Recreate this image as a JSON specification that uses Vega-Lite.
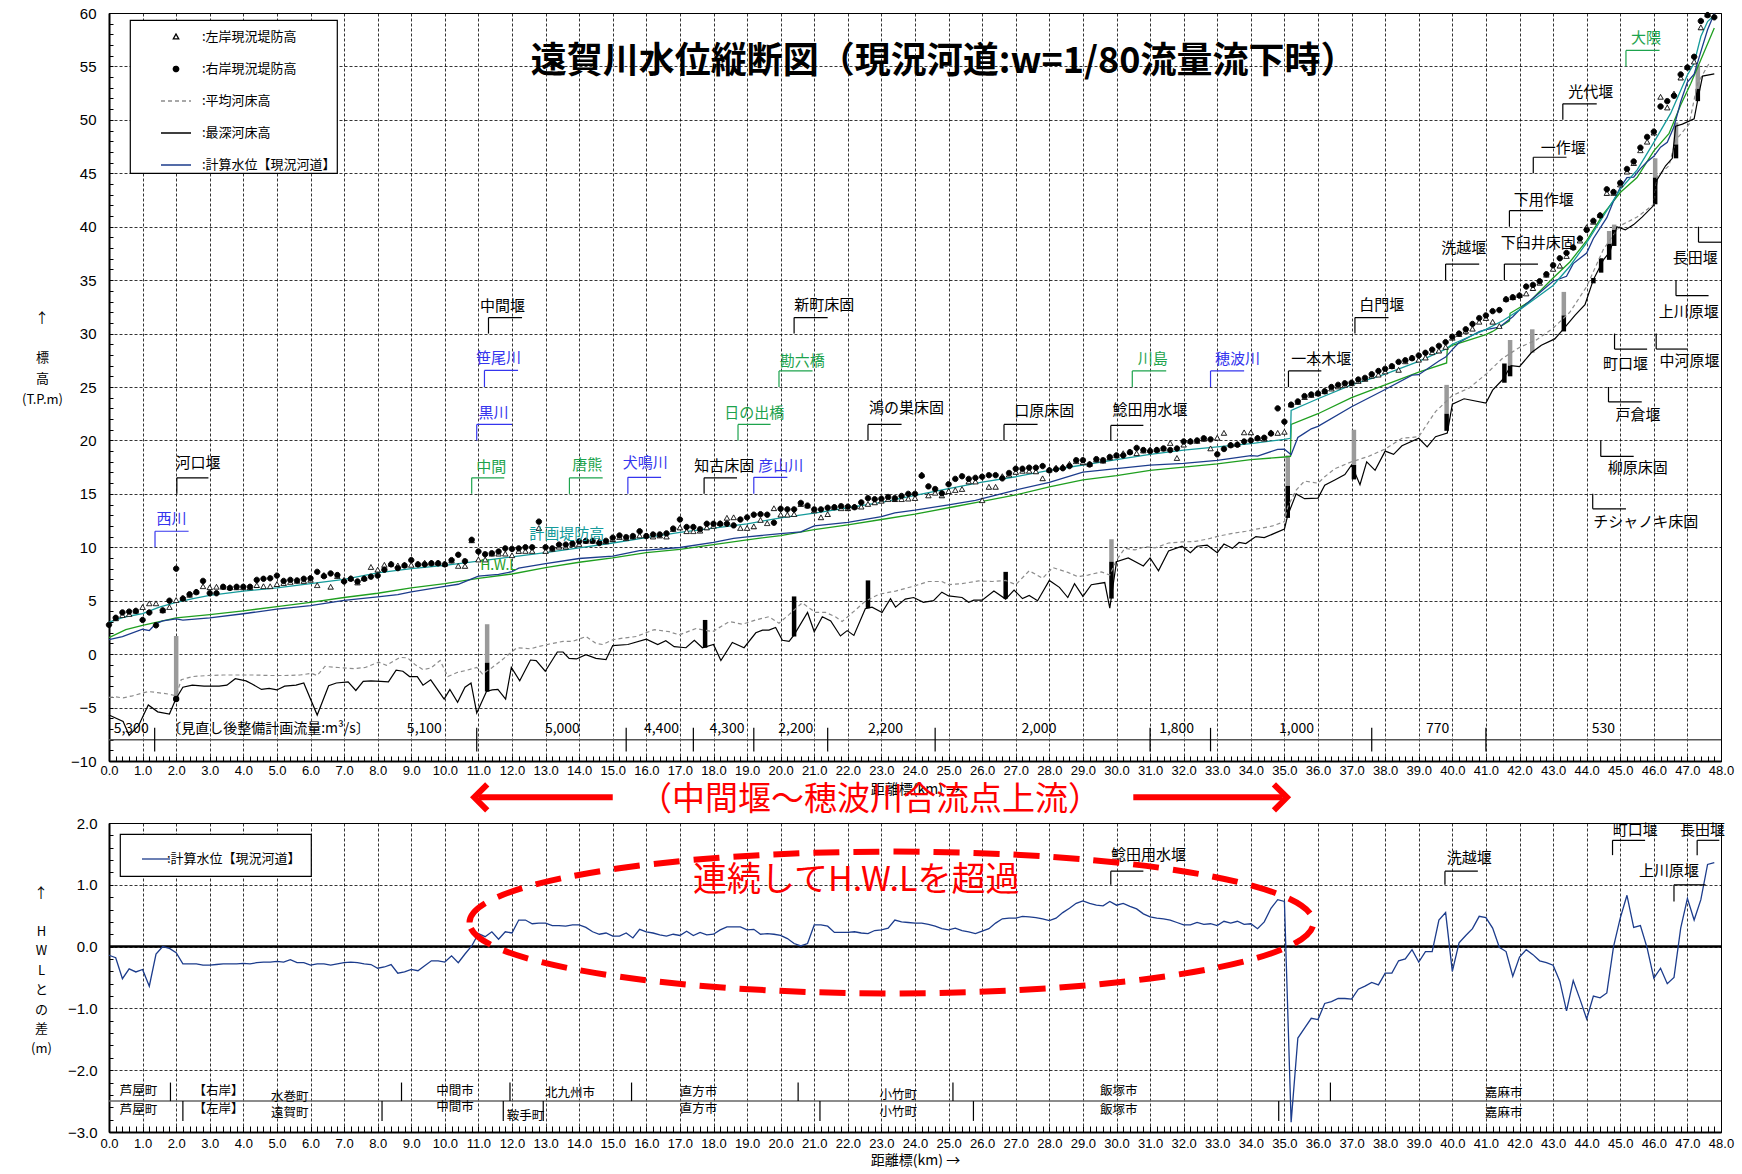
{
  "$schema": "https://vega.github.io/schema/vega-lite/v6.json",
  "background": "white",
  "padding": {"left": 21, "top": 5, "right": 5, "bottom": 5},
  "bounds": "flush",
  "spacing": 62,
  "config": {
    "font": "Noto Sans CJK JP",
    "view": {"stroke": "#000000", "strokeWidth": 1},
    "axis": {"labelColor": "#000000", "titleColor": "#000000", "domainColor": "#000000", "tickColor": "#000000", "gridColor": "#000000"},
    "legend": {"strokeWidth": 1.2},
    "text": {"font": "Noto Sans CJK JP", "color": "#000000"}
  },
  "resolve": {"scale": {"color": "independent", "shape": "independent", "fill": "independent", "stroke": "independent", "strokeDash": "independent"}},
  "datasets": {
    "bankL": [
      {"k":0.2,"z":3.3},{"k":0.4,"z":3.6},{"k":0.6,"z":3.7},{"k":0.8,"z":4.0},{"k":1.0,"z":4.35},{"k":1.2,"z":4.7},{"k":1.4,"z":4.7},{"k":1.6,"z":4.05},{"k":1.8,"z":4.35},{"k":2.0,"z":5.0},
      {"k":2.2,"z":5.2},{"k":2.4,"z":5.5},{"k":2.6,"z":5.8},{"k":2.8,"z":6.3},{"k":3.0,"z":6.2},{"k":3.2,"z":6.25},{"k":3.4,"z":6.25},{"k":3.6,"z":6.2},{"k":3.8,"z":6.2},{"k":4.0,"z":6.2},
      {"k":4.2,"z":6.2},{"k":4.4,"z":6.4},{"k":4.6,"z":6.3},{"k":4.8,"z":6.3},{"k":5.0,"z":6.5},{"k":5.2,"z":6.6},{"k":5.4,"z":6.7},{"k":5.6,"z":6.8},{"k":5.8,"z":6.8},{"k":6.0,"z":6.9},
      {"k":6.2,"z":6.4},{"k":6.4,"z":7.35},{"k":6.6,"z":6.25},{"k":6.8,"z":7.25},{"k":7.0,"z":6.9},{"k":7.2,"z":7.05},{"k":7.4,"z":6.65},{"k":7.6,"z":7.05},{"k":7.8,"z":8.1},{"k":8.0,"z":7.85},
      {"k":8.2,"z":8.3},{"k":8.4,"z":8.4},{"k":8.6,"z":8.25},{"k":8.8,"z":8.3},{"k":9.0,"z":8.3},{"k":9.2,"z":8.4},{"k":9.4,"z":8.5},{"k":9.6,"z":8.5},{"k":9.8,"z":8.5},{"k":10.0,"z":8.4},
      {"k":10.2,"z":8.7},{"k":10.4,"z":8.2},{"k":10.6,"z":8.2},{"k":10.8,"z":10.6},{"k":11.0,"z":8.8},{"k":11.2,"z":8.8},{"k":11.4,"z":9.35},{"k":11.6,"z":9.35},{"k":11.8,"z":9.35},{"k":12.0,"z":9.2},
      {"k":12.2,"z":9.6},{"k":12.4,"z":9.6},{"k":12.6,"z":9.6},{"k":12.8,"z":11.75},{"k":13.0,"z":9.6},{"k":13.2,"z":9.8},{"k":13.4,"z":10.0},{"k":13.6,"z":10.0},{"k":13.8,"z":10.25},{"k":14.0,"z":10.25},
      {"k":14.2,"z":10.55},{"k":14.4,"z":10.55},{"k":14.6,"z":10.55},{"k":14.8,"z":10.5},{"k":15.0,"z":10.7},{"k":15.2,"z":10.9},{"k":15.4,"z":10.8},{"k":15.6,"z":10.95},{"k":15.8,"z":11.05},{"k":16.0,"z":11.05},
      {"k":16.2,"z":10.95},{"k":16.4,"z":11.05},{"k":16.6,"z":10.95},{"k":16.8,"z":11.65},{"k":17.0,"z":11.8},{"k":17.2,"z":11.45},{"k":17.4,"z":11.45},{"k":17.6,"z":11.5},{"k":17.8,"z":11.8},{"k":18.0,"z":11.95},
      {"k":18.2,"z":12.2},{"k":18.4,"z":12.7},{"k":18.6,"z":12.75},{"k":18.8,"z":11.75},{"k":19.0,"z":11.75},{"k":19.2,"z":11.9},{"k":19.4,"z":12.5},{"k":19.6,"z":12.2},{"k":19.8,"z":13.6},{"k":20.0,"z":13.0},
      {"k":20.2,"z":13.0},{"k":20.4,"z":13.05},{"k":20.6,"z":14.0},{"k":20.8,"z":13.85},{"k":21.0,"z":13.4},{"k":21.2,"z":12.75},{"k":21.4,"z":13.05},{"k":21.6,"z":13.7},{"k":21.8,"z":13.6},{"k":22.0,"z":13.6},
      {"k":22.2,"z":13.75},{"k":22.4,"z":13.75},{"k":22.6,"z":14.0},{"k":22.8,"z":14.15},{"k":23.0,"z":14.3},{"k":23.2,"z":14.45},{"k":23.4,"z":14.45},{"k":23.6,"z":14.45},{"k":23.8,"z":14.5},{"k":24.0,"z":14.55},
      {"k":24.2,"z":16.75},{"k":24.4,"z":14.8},{"k":24.6,"z":15.05},{"k":24.8,"z":14.8},{"k":25.0,"z":15.2},{"k":25.2,"z":15.3},{"k":25.4,"z":15.4},{"k":25.6,"z":16.1},{"k":25.8,"z":16.1},{"k":26.0,"z":14.35},
      {"k":26.2,"z":15.6},{"k":26.4,"z":15.6},{"k":26.6,"z":16.6},{"k":26.8,"z":16.75},{"k":27.0,"z":17.0},{"k":27.2,"z":17.1},{"k":27.4,"z":17.1},{"k":27.6,"z":17.05},{"k":27.8,"z":16.4},{"k":28.0,"z":17.2},
      {"k":28.2,"z":17.4},{"k":28.4,"z":17.5},{"k":28.6,"z":17.75},{"k":28.8,"z":18.0},{"k":29.0,"z":17.9},{"k":29.2,"z":17.75},{"k":29.4,"z":18.15},{"k":29.6,"z":18.05},{"k":29.8,"z":18.35},{"k":30.0,"z":18.55},
      {"k":30.2,"z":18.75},{"k":30.4,"z":18.9},{"k":30.6,"z":18.75},{"k":30.8,"z":19.0},{"k":31.0,"z":19.1},{"k":31.2,"z":19.1},{"k":31.4,"z":19.2},{"k":31.6,"z":19.7},{"k":31.8,"z":18.3},{"k":32.0,"z":19.55},
      {"k":32.2,"z":19.9},{"k":32.4,"z":19.9},{"k":32.6,"z":20.1},{"k":32.8,"z":19.2},{"k":33.0,"z":20.2},{"k":33.2,"z":20.65},{"k":33.4,"z":19.55},{"k":33.6,"z":19.6},{"k":33.8,"z":20.7},{"k":34.0,"z":20.7},
      {"k":34.2,"z":20.2},{"k":34.4,"z":20.1},{"k":34.6,"z":20.7},{"k":34.8,"z":20.65},{"k":35.0,"z":20.75},{"k":35.2,"z":23.3},{"k":35.4,"z":23.55},{"k":35.6,"z":24.0},{"k":35.8,"z":24.2},{"k":36.0,"z":24.35},
      {"k":36.2,"z":24.55},{"k":36.4,"z":24.8},{"k":36.6,"z":25.0},{"k":36.8,"z":25.15},{"k":37.0,"z":25.3},{"k":37.2,"z":25.5},{"k":37.4,"z":25.7},{"k":37.6,"z":26.0},{"k":37.8,"z":26.1},{"k":38.0,"z":26.4},
      {"k":38.2,"z":26.9},{"k":38.4,"z":26.55},{"k":38.6,"z":27.35},{"k":38.8,"z":27.7},{"k":39.0,"z":27.5},{"k":39.2,"z":27.7},{"k":39.4,"z":28.2},{"k":39.6,"z":28.35},{"k":39.8,"z":28.7},{"k":40.0,"z":29.55},
      {"k":40.2,"z":29.9},{"k":40.4,"z":30.2},{"k":40.6,"z":30.4},{"k":40.8,"z":31.05},{"k":41.0,"z":31.4},{"k":41.2,"z":31.05},{"k":41.4,"z":30.65},{"k":41.6,"z":33.2},{"k":41.8,"z":33.35},{"k":42.0,"z":33.55},
      {"k":42.2,"z":33.7},{"k":42.4,"z":34.2},{"k":42.6,"z":34.7},{"k":42.8,"z":35.45},{"k":43.0,"z":36.0},{"k":43.2,"z":36.3},{"k":43.4,"z":37.2},{"k":43.6,"z":38.05},{"k":43.8,"z":38.65},{"k":44.0,"z":39.9},
      {"k":44.2,"z":40.4},{"k":44.4,"z":41.05},{"k":44.6,"z":43.1},{"k":44.8,"z":43.1},{"k":45.0,"z":43.9},{"k":45.2,"z":45.1},{"k":45.4,"z":45.9},{"k":45.6,"z":47.1},{"k":45.8,"z":47.9},{"k":46.0,"z":48.75},
      {"k":46.2,"z":52.1},{"k":46.4,"z":51.1},{"k":46.6,"z":52.4},{"k":46.8,"z":53.9},{"k":47.0,"z":54.9},{"k":47.2,"z":55.4},{"k":47.4,"z":58.6},{"k":47.6,"z":59.8}
    ],
    "bankR": [
      {"k":0.0,"z":2.74},{"k":0.2,"z":3.4},{"k":0.4,"z":3.9},{"k":0.6,"z":3.98},{"k":0.8,"z":4.05},{"k":1.0,"z":3.2},{"k":1.2,"z":3.9},{"k":1.4,"z":2.7},{"k":1.6,"z":4.1},{"k":1.8,"z":5.0},
      {"k":2.0,"z":8.0},{"k":2.2,"z":5.2},{"k":2.4,"z":5.6},{"k":2.6,"z":5.8},{"k":2.8,"z":6.85},{"k":3.0,"z":5.7},{"k":3.2,"z":5.7},{"k":3.4,"z":6.3},{"k":3.6,"z":6.2},{"k":3.8,"z":6.3},
      {"k":4.0,"z":6.3},{"k":4.2,"z":6.3},{"k":4.4,"z":6.95},{"k":4.6,"z":7.05},{"k":4.8,"z":7.1},{"k":5.0,"z":7.35},{"k":5.2,"z":6.85},{"k":5.4,"z":6.95},{"k":5.6,"z":6.9},{"k":5.8,"z":7.05},
      {"k":6.0,"z":7.1},{"k":6.2,"z":7.7},{"k":6.4,"z":7.3},{"k":6.6,"z":7.55},{"k":6.8,"z":7.4},{"k":7.0,"z":6.8},{"k":7.2,"z":7.05},{"k":7.4,"z":6.8},{"k":7.6,"z":7.05},{"k":7.8,"z":7.25},
      {"k":8.0,"z":7.35},{"k":8.2,"z":7.9},{"k":8.4,"z":8.4},{"k":8.6,"z":8.05},{"k":8.8,"z":8.3},{"k":9.0,"z":8.8},{"k":9.2,"z":8.4},{"k":9.4,"z":8.4},{"k":9.6,"z":8.5},{"k":9.8,"z":8.5},
      {"k":10.0,"z":8.4},{"k":10.2,"z":8.8},{"k":10.4,"z":9.3},{"k":10.6,"z":8.7},{"k":10.8,"z":10.7},{"k":11.0,"z":9.6},{"k":11.2,"z":9.35},{"k":11.4,"z":9.45},{"k":11.6,"z":9.6},{"k":11.8,"z":9.9},
      {"k":12.0,"z":9.85},{"k":12.2,"z":9.9},{"k":12.4,"z":10.0},{"k":12.6,"z":10.0},{"k":12.8,"z":12.4},{"k":13.0,"z":10.0},{"k":13.2,"z":9.9},{"k":13.4,"z":10.25},{"k":13.6,"z":10.25},{"k":13.8,"z":10.35},
      {"k":14.0,"z":10.55},{"k":14.2,"z":10.6},{"k":14.4,"z":10.6},{"k":14.6,"z":10.4},{"k":14.8,"z":10.6},{"k":15.0,"z":10.9},{"k":15.2,"z":11.1},{"k":15.4,"z":10.95},{"k":15.6,"z":11.05},{"k":15.8,"z":11.5},
      {"k":16.0,"z":11.05},{"k":16.2,"z":11.2},{"k":16.4,"z":11.2},{"k":16.6,"z":11.3},{"k":16.8,"z":11.75},{"k":17.0,"z":12.6},{"k":17.2,"z":11.9},{"k":17.4,"z":11.9},{"k":17.6,"z":11.7},{"k":17.8,"z":12.2},
      {"k":18.0,"z":12.2},{"k":18.2,"z":12.2},{"k":18.4,"z":12.2},{"k":18.6,"z":12.05},{"k":18.8,"z":12.6},{"k":19.0,"z":12.8},{"k":19.2,"z":13.05},{"k":19.4,"z":13.1},{"k":19.6,"z":13.05},{"k":19.8,"z":12.3},
      {"k":20.0,"z":13.6},{"k":20.2,"z":13.55},{"k":20.4,"z":13.55},{"k":20.6,"z":14.15},{"k":20.8,"z":13.9},{"k":21.0,"z":13.55},{"k":21.2,"z":13.55},{"k":21.4,"z":13.7},{"k":21.6,"z":13.75},{"k":21.8,"z":13.85},
      {"k":22.0,"z":13.8},{"k":22.2,"z":13.75},{"k":22.4,"z":14.2},{"k":22.6,"z":14.6},{"k":22.8,"z":14.5},{"k":23.0,"z":14.55},{"k":23.2,"z":14.7},{"k":23.4,"z":14.6},{"k":23.6,"z":14.8},{"k":23.8,"z":15.0},
      {"k":24.0,"z":15.0},{"k":24.2,"z":16.7},{"k":24.4,"z":15.7},{"k":24.6,"z":15.45},{"k":24.8,"z":15.05},{"k":25.0,"z":15.9},{"k":25.2,"z":16.4},{"k":25.4,"z":16.65},{"k":25.6,"z":16.4},{"k":25.8,"z":16.5},
      {"k":26.0,"z":16.6},{"k":26.2,"z":16.75},{"k":26.4,"z":16.75},{"k":26.6,"z":16.45},{"k":26.8,"z":16.95},{"k":27.0,"z":17.35},{"k":27.2,"z":17.35},{"k":27.4,"z":17.45},{"k":27.6,"z":17.45},{"k":27.8,"z":17.6},
      {"k":28.0,"z":17.2},{"k":28.2,"z":17.3},{"k":28.4,"z":17.4},{"k":28.6,"z":17.6},{"k":28.8,"z":18.15},{"k":29.0,"z":18.15},{"k":29.2,"z":17.75},{"k":29.4,"z":18.25},{"k":29.6,"z":18.15},{"k":29.8,"z":18.45},
      {"k":30.0,"z":18.6},{"k":30.2,"z":18.6},{"k":30.4,"z":18.9},{"k":30.6,"z":19.3},{"k":30.8,"z":19.1},{"k":31.0,"z":19.0},{"k":31.2,"z":19.1},{"k":31.4,"z":19.25},{"k":31.6,"z":19.1},{"k":31.8,"z":19.25},
      {"k":32.0,"z":19.9},{"k":32.2,"z":19.9},{"k":32.4,"z":20.0},{"k":32.6,"z":20.2},{"k":32.8,"z":20.1},{"k":33.0,"z":18.7},{"k":33.2,"z":19.2},{"k":33.4,"z":19.55},{"k":33.6,"z":19.6},{"k":33.8,"z":19.9},
      {"k":34.0,"z":20.0},{"k":34.2,"z":20.2},{"k":34.4,"z":20.25},{"k":34.6,"z":20.65},{"k":34.8,"z":23.0},{"k":35.0,"z":21.75},{"k":35.2,"z":23.35},{"k":35.4,"z":23.65},{"k":35.6,"z":24.15},{"k":35.8,"z":24.3},
      {"k":36.0,"z":24.4},{"k":36.2,"z":24.6},{"k":36.4,"z":25.0},{"k":36.6,"z":25.2},{"k":36.8,"z":25.35},{"k":37.0,"z":25.4},{"k":37.2,"z":25.7},{"k":37.4,"z":25.85},{"k":37.6,"z":26.2},{"k":37.8,"z":26.5},
      {"k":38.0,"z":26.7},{"k":38.2,"z":26.95},{"k":38.4,"z":27.35},{"k":38.6,"z":27.5},{"k":38.8,"z":27.7},{"k":39.0,"z":27.95},{"k":39.2,"z":28.2},{"k":39.4,"z":28.5},{"k":39.6,"z":28.85},{"k":39.8,"z":29.2},
      {"k":40.0,"z":29.7},{"k":40.2,"z":30.0},{"k":40.4,"z":30.4},{"k":40.6,"z":30.9},{"k":40.8,"z":31.45},{"k":41.0,"z":31.7},{"k":41.2,"z":32.1},{"k":41.4,"z":32.2},{"k":41.6,"z":33.2},{"k":41.8,"z":33.4},
      {"k":42.0,"z":33.55},{"k":42.2,"z":34.4},{"k":42.4,"z":34.55},{"k":42.6,"z":34.9},{"k":42.8,"z":35.55},{"k":43.0,"z":36.4},{"k":43.2,"z":37.05},{"k":43.4,"z":37.55},{"k":43.6,"z":38.05},{"k":43.8,"z":38.9},
      {"k":44.0,"z":39.7},{"k":44.2,"z":40.55},{"k":44.4,"z":41.05},{"k":44.6,"z":43.5},{"k":44.8,"z":43.25},{"k":45.0,"z":44.1},{"k":45.2,"z":45.4},{"k":45.4,"z":46.1},{"k":45.6,"z":47.4},{"k":45.8,"z":48.4},
      {"k":46.0,"z":48.9},{"k":46.2,"z":51.25},{"k":46.4,"z":51.75},{"k":46.6,"z":52.25},{"k":46.8,"z":54.25},{"k":47.0,"z":54.9},{"k":47.2,"z":55.9},{"k":47.4,"z":59.25},{"k":47.6,"z":59.8},{"k":47.8,"z":59.6}
    ],
    "bedAvg": [
      {"k":0,"z":-4.05},{"k":0.2,"z":-4.0},{"k":0.42,"z":-4.1},{"k":0.7,"z":-3.9},{"k":1.17,"z":-3.5},{"k":1.45,"z":-3.6},{"k":1.8,"z":-3.75},{"k":2.0,"z":-3.9},{"k":2.15,"z":-2.4},{"k":2.48,"z":-2.1},
      {"k":2.94,"z":-2.0},{"k":3.4,"z":-1.95},{"k":3.86,"z":-1.95},{"k":4.3,"z":-1.95},{"k":4.77,"z":-2.0},{"k":5.23,"z":-2.0},{"k":5.69,"z":-1.95},{"k":6.03,"z":-1.8},{"k":6.2,"z":-2.0},{"k":6.43,"z":-1.15},
      {"k":6.83,"z":-1.25},{"k":7.29,"z":-1.35},{"k":7.63,"z":-1.25},{"k":8.03,"z":-0.75},{"k":8.26,"z":-1.05},{"k":8.66,"z":-0.3},{"k":8.89,"z":-0.35},{"k":9.12,"z":-1.0},{"k":9.35,"z":-1.45},{"k":9.58,"z":-1.3},
      {"k":9.86,"z":-0.6},{"k":10.09,"z":-2.1},{"k":10.38,"z":-1.7},{"k":10.6,"z":-1.55},{"k":10.95,"z":-1.25},{"k":11.12,"z":-1.85},{"k":11.41,"z":-1.25},{"k":11.64,"z":-0.7},{"k":11.87,"z":-0.1},{"k":12.15,"z":0.6},
      {"k":12.55,"z":0.5},{"k":12.78,"z":0.7},{"k":13.12,"z":0.95},{"k":13.52,"z":1.2},{"k":13.81,"z":1.2},{"k":14.2,"z":1.65},{"k":14.5,"z":1.0},{"k":14.7,"z":0.9},{"k":15.0,"z":1.35},{"k":15.3,"z":1.5},
      {"k":15.7,"z":1.65},{"k":16.24,"z":2.3},{"k":16.68,"z":2.1},{"k":16.98,"z":1.8},{"k":17.48,"z":2.4},{"k":17.97,"z":2.1},{"k":18.47,"z":3.05},{"k":18.86,"z":2.8},{"k":19.26,"z":3.2},{"k":19.65,"z":3.5},
      {"k":19.95,"z":2.9},{"k":20.25,"z":3.7},{"k":20.64,"z":4.8},{"k":21.04,"z":3.9},{"k":21.34,"z":3.9},{"k":21.63,"z":3.5},{"k":21.83,"z":3.05},{"k":22.18,"z":4.0},{"k":22.52,"z":4.95},{"k":22.92,"z":5.6},
      {"k":23.42,"z":5.9},{"k":24.0,"z":6.4},{"k":24.4,"z":6.8},{"k":24.8,"z":6.8},{"k":25.0,"z":6.5},{"k":25.4,"z":6.6},{"k":25.9,"z":6.85},{"k":26.3,"z":6.8},{"k":26.7,"z":6.9},{"k":27.0,"z":6.5},
      {"k":27.4,"z":7.8},{"k":27.8,"z":7.1},{"k":28.1,"z":8.1},{"k":28.55,"z":7.65},{"k":28.85,"z":7.25},{"k":29.15,"z":7.4},{"k":29.55,"z":7.7},{"k":29.8,"z":7.4},{"k":30.0,"z":8.8},{"k":30.25,"z":9.9},
      {"k":30.55,"z":9.75},{"k":30.85,"z":10.05},{"k":31.15,"z":9.95},{"k":31.55,"z":10.4},{"k":31.95,"z":10.5},{"k":32.35,"z":10.55},{"k":32.75,"z":10.8},{"k":33.05,"z":11.05},{"k":33.45,"z":11.3},{"k":33.85,"z":11.5},
      {"k":34.25,"z":11.75},{"k":34.65,"z":12.0},{"k":35.0,"z":12.4},{"k":35.1,"z":13.8},{"k":35.35,"z":15.35},{"k":35.6,"z":16.2},{"k":36.0,"z":16.0},{"k":36.2,"z":16.6},{"k":36.5,"z":17.35},{"k":37.0,"z":18.0},
      {"k":37.5,"z":18.5},{"k":38.0,"z":19.2},{"k":38.5,"z":20.2},{"k":39.0,"z":20.35},{"k":39.5,"z":22.7},{"k":40.0,"z":24.2},{"k":40.5,"z":24.9},{"k":41.0,"z":26.2},{"k":41.5,"z":27.7},{"k":42.0,"z":28.7},
      {"k":42.5,"z":29.4},{"k":43.0,"z":30.5},{"k":43.5,"z":32.0},{"k":44.0,"z":34.4},{"k":44.5,"z":37.9},{"k":45.0,"z":40.1},{"k":45.5,"z":40.9},{"k":46.0,"z":42.1},{"k":46.1,"z":44.7},{"k":46.45,"z":45.7},
      {"k":46.65,"z":48.1},{"k":47.05,"z":49.6},{"k":47.3,"z":53.4},{"k":47.65,"z":55.3}
    ],
    "bedMin": [
      {"k":0,"z":-5.7},{"k":0.42,"z":-6.3},{"k":0.6,"z":-7.6},{"k":0.88,"z":-6.7},{"k":1.17,"z":-4.75},{"k":1.45,"z":-5.4},{"k":1.8,"z":-5.6},{"k":1.99,"z":-4.2},{"k":2.2,"z":-3.1},{"k":2.48,"z":-2.9},
      {"k":2.83,"z":-3.0},{"k":3.28,"z":-3.0},{"k":3.51,"z":-2.9},{"k":3.76,"z":-2.3},{"k":4.08,"z":-2.5},{"k":4.26,"z":-2.8},{"k":4.54,"z":-3.3},{"k":4.77,"z":-3.2},{"k":5.0,"z":-3.35},{"k":5.23,"z":-3.0},
      {"k":5.57,"z":-2.9},{"k":5.8,"z":-2.7},{"k":6.2,"z":-5.7},{"k":6.54,"z":-2.95},{"k":6.77,"z":-2.7},{"k":7.12,"z":-2.6},{"k":7.35,"z":-3.4},{"k":7.57,"z":-2.55},{"k":7.8,"z":-2.5},{"k":8.09,"z":-2.55},
      {"k":8.32,"z":-2.6},{"k":8.55,"z":-1.5},{"k":8.75,"z":-1.6},{"k":8.95,"z":-2.1},{"k":9.18,"z":-2.1},{"k":9.35,"z":-2.9},{"k":9.58,"z":-2.4},{"k":9.98,"z":-4.2},{"k":10.15,"z":-3.3},{"k":10.38,"z":-4.5},
      {"k":10.6,"z":-3.1},{"k":10.78,"z":-2.7},{"k":10.95,"z":-5.5},{"k":11.24,"z":-3.5},{"k":11.41,"z":-3.35},{"k":11.58,"z":-3.3},{"k":11.81,"z":-4.2},{"k":11.98,"z":-1.25},{"k":12.23,"z":-2.5},{"k":12.55,"z":-0.55},
      {"k":12.72,"z":-0.6},{"k":12.99,"z":-1.6},{"k":13.35,"z":0.2},{"k":13.52,"z":0.2},{"k":13.7,"z":-0.4},{"k":13.92,"z":-0.45},{"k":14.2,"z":-0.05},{"k":14.5,"z":-0.4},{"k":14.8,"z":-0.5},{"k":15.0,"z":0.8},
      {"k":15.45,"z":0.9},{"k":16.0,"z":1.4},{"k":16.34,"z":0.9},{"k":16.58,"z":1.25},{"k":16.83,"z":0.7},{"k":17.18,"z":0.6},{"k":17.43,"z":1.3},{"k":17.67,"z":0.6},{"k":18.0,"z":0.9},{"k":18.22,"z":-0.6},
      {"k":18.56,"z":1.1},{"k":18.91,"z":0.6},{"k":19.26,"z":2.0},{"k":19.46,"z":2.25},{"k":19.65,"z":2.25},{"k":19.85,"z":2.5},{"k":20.05,"z":1.3},{"k":20.25,"z":1.2},{"k":20.4,"z":1.8},{"k":20.8,"z":3.9},
      {"k":21.0,"z":2.1},{"k":21.24,"z":3.5},{"k":21.49,"z":3.1},{"k":21.78,"z":1.7},{"k":21.98,"z":2.2},{"k":22.18,"z":1.75},{"k":22.52,"z":4.25},{"k":22.72,"z":4.4},{"k":23.02,"z":3.9},{"k":23.27,"z":5.2},
      {"k":23.42,"z":4.4},{"k":23.71,"z":5.15},{"k":23.96,"z":5.3},{"k":24.25,"z":4.85},{"k":24.55,"z":5.0},{"k":24.8,"z":5.8},{"k":25.0,"z":5.45},{"k":25.4,"z":5.3},{"k":25.6,"z":4.85},{"k":25.75,"z":5.05},
      {"k":26.0,"z":5.05},{"k":26.35,"z":5.9},{"k":26.7,"z":5.15},{"k":26.95,"z":6.0},{"k":27.2,"z":5.2},{"k":27.4,"z":5.5},{"k":27.65,"z":5.0},{"k":28.0,"z":6.9},{"k":28.3,"z":6.25},{"k":28.55,"z":5.3},
      {"k":28.75,"z":6.6},{"k":29.0,"z":5.4},{"k":29.25,"z":6.5},{"k":29.65,"z":6.7},{"k":29.8,"z":4.3},{"k":30.0,"z":8.65},{"k":30.35,"z":9.0},{"k":30.8,"z":8.25},{"k":31.0,"z":9.0},{"k":31.25,"z":7.8},
      {"k":31.55,"z":9.65},{"k":31.95,"z":10.1},{"k":32.2,"z":9.5},{"k":32.4,"z":10.1},{"k":32.7,"z":10.2},{"k":33.0,"z":9.5},{"k":33.2,"z":10.3},{"k":33.45,"z":9.9},{"k":33.65,"z":10.45},{"k":33.85,"z":10.35},
      {"k":34.15,"z":11.0},{"k":34.4,"z":10.9},{"k":34.7,"z":11.3},{"k":35.0,"z":11.7},{"k":35.1,"z":13.0},{"k":35.35,"z":15.0},{"k":35.6,"z":14.55},{"k":36.0,"z":14.6},{"k":36.2,"z":15.8},{"k":36.5,"z":16.3},
      {"k":36.8,"z":16.8},{"k":37.0,"z":17.7},{"k":37.25,"z":15.85},{"k":37.45,"z":18.0},{"k":37.7,"z":17.2},{"k":38.0,"z":19.0},{"k":38.25,"z":18.7},{"k":38.5,"z":19.5},{"k":39.0,"z":20.2},{"k":39.25,"z":19.4},
      {"k":39.5,"z":20.35},{"k":39.85,"z":20.7},{"k":40.0,"z":23.4},{"k":40.35,"z":23.9},{"k":41.0,"z":23.5},{"k":41.2,"z":24.7},{"k":41.5,"z":25.7},{"k":41.75,"z":27.0},{"k":42.0,"z":26.9},{"k":42.35,"z":28.2},
      {"k":42.65,"z":28.9},{"k":43.05,"z":29.5},{"k":43.3,"z":30.4},{"k":43.65,"z":31.7},{"k":43.95,"z":32.7},{"k":44.2,"z":35.05},{"k":44.5,"z":36.9},{"k":44.7,"z":37.7},{"k":44.9,"z":40.0},{"k":45.15,"z":39.7},
      {"k":45.4,"z":40.2},{"k":45.65,"z":40.9},{"k":46.0,"z":42.0},{"k":46.1,"z":44.4},{"k":46.35,"z":45.7},{"k":46.55,"z":46.4},{"k":46.65,"z":49.4},{"k":46.85,"z":49.6},{"k":47.2,"z":50.1},{"k":47.3,"z":51.75},
      {"k":47.45,"z":54.1},{"k":47.8,"z":54.3}
    ],
    "hwl": [
      {"k":0,"z":1.55},{"k":0.5,"z":2.3},{"k":1.0,"z":2.7},{"k":1.5,"z":3.05},{"k":2.0,"z":3.4},{"k":3.0,"z":3.7},{"k":4.0,"z":4.05},{"k":5.0,"z":4.45},{"k":6.0,"z":4.85},{"k":7.0,"z":5.3},
      {"k":8.0,"z":5.7},{"k":9.0,"z":6.2},{"k":10.0,"z":6.6},{"k":11.0,"z":7.1},{"k":12.0,"z":7.5},{"k":13.0,"z":8.1},{"k":14.0,"z":8.6},{"k":15.0,"z":9.0},{"k":16.0,"z":9.5},{"k":17.0,"z":9.8},
      {"k":18.0,"z":10.25},{"k":19.0,"z":10.7},{"k":20.0,"z":11.1},{"k":21.0,"z":11.65},{"k":22.0,"z":12.1},{"k":23.0,"z":12.6},{"k":24.0,"z":13.1},{"k":25.0,"z":13.7},{"k":26.0,"z":14.3},{"k":27.0,"z":14.9},
      {"k":28.0,"z":15.65},{"k":29.0,"z":16.3},{"k":30.0,"z":16.7},{"k":31.0,"z":17.2},{"k":32.0,"z":17.5},{"k":33.0,"z":17.8},{"k":34.0,"z":18.2},{"k":35.0,"z":18.45},{"k":35.18,"z":18.5},{"k":35.2,"z":21.5},
      {"k":36.0,"z":22.5},{"k":37.0,"z":24.0},{"k":38.0,"z":25.2},{"k":39.0,"z":26.4},{"k":39.83,"z":27.25},{"k":39.85,"z":28.6},{"k":40.0,"z":28.9},{"k":41.0,"z":29.9},{"k":41.2,"z":30.2},{"k":41.7,"z":31.2},
      {"k":41.72,"z":31.9},{"k":42.3,"z":33.0},{"k":43.0,"z":35.2},{"k":43.5,"z":36.7},{"k":44.0,"z":38.7},{"k":44.5,"z":41.2},{"k":45.0,"z":43.2},{"k":45.5,"z":44.6},{"k":46.0,"z":47.1},{"k":46.45,"z":48.7},
      {"k":46.8,"z":51.4},{"k":47.1,"z":53.4},{"k":47.8,"z":58.6}
    ],
    "wl": [
      {"k":0,"z":1.35},{"k":0.4,"z":1.63},{"k":1.0,"z":2.33},{"k":1.2,"z":2.21},{"k":1.4,"z":2.86},{"k":1.6,"z":3.12},{"k":2.0,"z":3.3},{"k":2.2,"z":3.18},{"k":3.0,"z":3.4},{"k":4.0,"z":3.78},
      {"k":5.0,"z":4.21},{"k":6.0,"z":4.55},{"k":7.0,"z":5.04},{"k":8.0,"z":5.35},{"k":8.6,"z":5.57},{"k":9.0,"z":5.83},{"k":10.0,"z":6.35},{"k":10.4,"z":6.54},{"k":11.0,"z":7.31},{"k":11.6,"z":7.46},
      {"k":12.0,"z":7.72},{"k":12.2,"z":8.05},{"k":13.0,"z":8.48},{"k":14.0,"z":8.95},{"k":15.0,"z":9.17},{"k":15.8,"z":9.68},{"k":16.0,"z":9.74},{"k":17.0,"z":9.98},{"k":18.0,"z":10.45},{"k":18.6,"z":10.84},
      {"k":19.0,"z":10.97},{"k":20.0,"z":11.28},{"k":20.6,"z":11.44},{"k":21.0,"z":12.0},{"k":22.0,"z":12.33},{"k":23.0,"z":12.87},{"k":23.4,"z":13.23},{"k":24.0,"z":13.48},{"k":25.0,"z":13.97},{"k":25.8,"z":14.39},
      {"k":26.0,"z":14.55},{"k":27.0,"z":15.36},{"k":28.0,"z":16.07},{"k":29.0,"z":17.04},{"k":30.0,"z":17.37},{"k":31.0,"z":17.68},{"k":32.0,"z":17.85},{"k":33.0,"z":18.14},{"k":34.0,"z":18.57},{"k":34.2,"z":18.54},
      {"k":34.8,"z":19.16},{"k":35.0,"z":19.18},{"k":35.2,"z":18.66},{"k":35.4,"z":20.28},{"k":35.6,"z":20.68},{"k":35.8,"z":21.09},{"k":36.0,"z":21.32},{"k":37.0,"z":23.15},{"k":38.0,"z":24.77},{"k":38.8,"z":26.11},
      {"k":39.0,"z":26.15},{"k":39.6,"z":27.43},{"k":39.8,"z":27.8},{"k":40.0,"z":28.5},{"k":40.2,"z":29.16},{"k":40.8,"z":30.19},{"k":41.0,"z":30.37},{"k":41.4,"z":30.6},{"k":41.8,"z":31.57},{"k":42.0,"z":32.23},
      {"k":43.0,"z":34.9},{"k":43.4,"z":35.36},{"k":43.6,"z":36.55},{"k":43.8,"z":37.05},{"k":44.0,"z":37.53},{"k":44.2,"z":38.9},{"k":44.6,"z":40.85},{"k":44.8,"z":42.4},{"k":45.0,"z":43.66},{"k":45.2,"z":44.59},
      {"k":45.4,"z":44.63},{"k":45.6,"z":45.44},{"k":45.8,"z":46.08},{"k":46.0,"z":46.59},{"k":46.2,"z":47.45},{"k":46.4,"z":47.9},{"k":46.6,"z":49.35},{"k":46.8,"z":51.7},{"k":47.0,"z":53.53},{"k":47.2,"z":54.28},
      {"k":47.4,"z":56.39},{"k":47.6,"z":58.43},{"k":47.8,"z":59.96}
    ],
    "plan": [
      {"k":0,"z":3.0},{"k":0.5,"z":3.5},{"k":1.0,"z":3.8},{"k":1.5,"z":4.4},{"k":2.0,"z":4.85},{"k":2.5,"z":5.2},{"k":3.0,"z":5.5},{"k":4.0,"z":5.9},{"k":5.0,"z":6.2},{"k":6.0,"z":6.6},
      {"k":7.0,"z":7.0},{"k":8.0,"z":7.6},{"k":9.0,"z":8.0},{"k":10.0,"z":8.3},{"k":11.0,"z":8.7},{"k":12.0,"z":9.1},{"k":13.0,"z":9.5},{"k":14.0,"z":9.95},{"k":15.0,"z":10.4},{"k":16.0,"z":10.9},
      {"k":17.0,"z":11.4},{"k":18.0,"z":11.8},{"k":19.0,"z":12.2},{"k":20.0,"z":12.75},{"k":21.0,"z":13.2},{"k":22.0,"z":13.7},{"k":23.0,"z":14.2},{"k":24.0,"z":14.85},{"k":25.0,"z":15.5},{"k":26.0,"z":16.1},
      {"k":27.0,"z":16.6},{"k":28.0,"z":17.2},{"k":29.0,"z":17.7},{"k":30.0,"z":18.2},{"k":31.0,"z":18.7},{"k":32.0,"z":19.1},{"k":33.0,"z":19.4},{"k":34.0,"z":19.7},{"k":35.0,"z":20.1},{"k":35.18,"z":20.2},
      {"k":35.2,"z":22.8},{"k":36.0,"z":23.9},{"k":37.0,"z":25.2},{"k":38.0,"z":26.2},{"k":39.0,"z":27.4},{"k":39.8,"z":28.55},{"k":40.0,"z":29.0},{"k":41.0,"z":30.4},{"k":41.5,"z":31.2},{"k":42.0,"z":32.2},
      {"k":43.0,"z":34.5},{"k":43.5,"z":36.3},{"k":44.0,"z":38.5},{"k":44.5,"z":41.0},{"k":45.0,"z":43.5},{"k":45.5,"z":45.3},{"k":46.0,"z":47.9},{"k":46.5,"z":50.6},{"k":47.0,"z":54.2},{"k":47.2,"z":55.3},
      {"k":47.4,"z":57.8},{"k":47.6,"z":59.2},{"k":47.8,"z":59.8}
    ],
    "weirGray": [
      {"k":2.0,"lo":-4.2,"hi":1.7},{"k":11.26,"lo":-0.8,"hi":2.8},{"k":29.85,"lo":8.65,"hi":10.75},{"k":35.1,"lo":15.75,"hi":18.6},{"k":37.07,"lo":17.7,"hi":21.0},
      {"k":39.83,"lo":22.5,"hi":25.2},{"k":41.72,"lo":27.0,"hi":29.4},{"k":42.38,"lo":28.2,"hi":30.4},{"k":43.32,"lo":31.7,"hi":33.9},{"k":44.67,"lo":38.4,"hi":39.6},
      {"k":44.82,"lo":39.7,"hi":40.2},{"k":46.04,"lo":44.6,"hi":46.4},{"k":46.66,"lo":47.7,"hi":49.75},{"k":47.31,"lo":52.9,"hi":55.1}
    ],
    "weirBlack": [
      {"k":11.26,"lo":-3.5,"hi":-0.8},{"k":17.75,"lo":0.6,"hi":3.2},{"k":20.4,"lo":1.65,"hi":5.4},{"k":22.6,"lo":4.3,"hi":6.9},{"k":26.7,"lo":5.2,"hi":7.7},
      {"k":29.85,"lo":5.2,"hi":8.65},{"k":35.1,"lo":12.75,"hi":15.75},{"k":37.07,"lo":16.35,"hi":17.7},{"k":39.83,"lo":20.9,"hi":22.5},{"k":41.55,"lo":25.4,"hi":27.2},
      {"k":41.72,"lo":26.0,"hi":27.0},{"k":43.32,"lo":30.2,"hi":31.7},{"k":44.2,"lo":34.7,"hi":35.2},{"k":44.43,"lo":35.7,"hi":37.05},{"k":44.67,"lo":36.9,"hi":38.4},
      {"k":44.82,"lo":38.2,"hi":39.7},{"k":46.04,"lo":42.1,"hi":44.6},{"k":46.66,"lo":46.4,"hi":47.7},{"k":47.31,"lo":51.75,"hi":52.9}
    ],
    "landmarks": [
      {"t":"河口堰","kind":"施設","k":2.02,"z0":15,"z1":16.5,"k2":2.96,"tk":2.65,"tz":17.85},
      {"t":"中間堰","kind":"施設","k":11.3,"z0":30,"z1":31.5,"k2":12.3,"tk":11.72,"tz":32.6},
      {"t":"知古床固","kind":"施設","k":17.72,"z0":15,"z1":16.5,"k2":18.7,"tk":18.32,"tz":17.65},
      {"t":"新町床固","kind":"施設","k":20.4,"z0":30,"z1":31.5,"k2":21.4,"tk":21.3,"tz":32.65},
      {"t":"鴻の巣床固","kind":"施設","k":22.6,"z0":20,"z1":21.5,"k2":23.6,"tk":23.75,"tz":23.05},
      {"t":"口原床固","kind":"施設","k":26.65,"z0":20,"z1":21.5,"k2":27.65,"tk":27.85,"tz":22.8},
      {"t":"鯰田用水堰","kind":"施設","k":29.83,"z0":20,"z1":21.4,"k2":30.8,"tk":31.0,"tz":22.85},
      {"t":"一本木堰","kind":"施設","k":35.12,"z0":25,"z1":26.5,"k2":36.1,"tk":36.1,"tz":27.6},
      {"t":"白門堰","kind":"施設","k":37.1,"z0":30,"z1":31.5,"k2":38.1,"tk":37.9,"tz":32.65},
      {"t":"洗越堰","kind":"施設","k":39.8,"z0":35,"z1":36.5,"k2":40.8,"tk":40.34,"tz":38.0},
      {"t":"下臼井床固","kind":"施設","k":41.55,"z0":35,"z1":36.5,"k2":42.55,"tk":42.56,"tz":38.45},
      {"t":"下用作堰","kind":"施設","k":41.7,"z0":40,"z1":41.5,"k2":42.7,"tk":42.72,"tz":42.5},
      {"t":"一作堰","kind":"施設","k":42.41,"z0":45,"z1":46.5,"k2":43.4,"tk":43.3,"tz":47.35},
      {"t":"光代堰","kind":"施設","k":43.29,"z0":50,"z1":51.5,"k2":44.3,"tk":44.12,"tz":52.65},
      {"t":"長田堰","kind":"施設","k":47.33,"z0":40,"z1":38.55,"k2":48.0,"tk":47.23,"tz":37.1},
      {"t":"上川原堰","kind":"施設","k":46.66,"z0":35,"z1":33.55,"k2":47.63,"tk":47.04,"tz":32.05},
      {"t":"中河原堰","kind":"施設","k":46.07,"z0":30,"z1":28.55,"k2":47.0,"tk":47.06,"tz":27.45},
      {"t":"町口堰","kind":"施設","k":44.83,"z0":30,"z1":28.55,"k2":45.8,"tk":45.16,"tz":27.15},
      {"t":"戸倉堰","kind":"施設","k":44.65,"z0":25,"z1":23.6,"k2":45.64,"tk":45.53,"tz":22.4},
      {"t":"柳原床固","kind":"施設","k":44.42,"z0":20,"z1":18.5,"k2":45.4,"tk":45.52,"tz":17.45},
      {"t":"チシャノキ床固","kind":"施設","k":44.18,"z0":15,"z1":13.6,"k2":45.17,"tk":45.76,"tz":12.4},
      {"t":"大隈","kind":"地点","k":45.17,"z0":55,"z1":56.5,"k2":46.17,"tk":45.77,"tz":57.65},
      {"t":"中間","kind":"地点","k":10.8,"z0":15,"z1":16.5,"k2":11.77,"tk":11.38,"tz":17.55},
      {"t":"唐熊","kind":"地点","k":13.71,"z0":15,"z1":16.5,"k2":14.7,"tk":14.24,"tz":17.7},
      {"t":"日の出橋","kind":"地点","k":18.73,"z0":20,"z1":21.5,"k2":19.7,"tk":19.21,"tz":22.55},
      {"t":"勘六橋","kind":"地点","k":19.95,"z0":25,"z1":26.5,"k2":20.95,"tk":20.64,"tz":27.4},
      {"t":"川島","kind":"地点","k":30.47,"z0":25,"z1":26.5,"k2":31.48,"tk":31.08,"tz":27.6},
      {"t":"西川","kind":"支川","k":1.37,"z0":10,"z1":11.5,"k2":2.37,"tk":1.86,"tz":12.65},
      {"t":"笹尾川","kind":"支川","k":11.18,"z0":25,"z1":26.55,"k2":12.18,"tk":11.6,"tz":27.7},
      {"t":"黒川","kind":"支川","k":10.95,"z0":20,"z1":21.5,"k2":12.0,"tk":11.45,"tz":22.55},
      {"t":"犬鳴川","kind":"支川","k":15.45,"z0":15,"z1":16.55,"k2":16.44,"tk":15.97,"tz":17.9},
      {"t":"彦山川","kind":"支川","k":19.2,"z0":15,"z1":16.55,"k2":20.2,"tk":20.0,"tz":17.6},
      {"t":"穂波川","kind":"支川","k":32.8,"z0":25,"z1":26.5,"k2":33.8,"tk":33.6,"tz":27.6}
    ],
    "flowText": [
      {"k":0.66,"t":"5,300"},{"k":4.75,"t":"〔見直し後整備計画流量:m³/s〕"},{"k":9.39,"t":"5,100"},{"k":13.5,"t":"5,000"},{"k":16.45,"t":"4,400"},
      {"k":18.4,"t":"4,300"},{"k":20.45,"t":"2,200"},{"k":23.12,"t":"2,200"},{"k":27.69,"t":"2,000"},{"k":31.79,"t":"1,800"},
      {"k":35.36,"t":"1,000"},{"k":39.56,"t":"770"},{"k":44.5,"t":"530"}
    ],
    "diff": [
      {"k":0.0,"d":-0.14},{"k":0.2,"d":-0.18},{"k":0.4,"d":-0.52},{"k":0.6,"d":-0.36},{"k":0.8,"d":-0.41},{"k":1.0,"d":-0.37},{"k":1.2,"d":-0.64},{"k":1.4,"d":-0.12},{"k":1.6,"d":0.0},{"k":1.8,"d":-0.03},
      {"k":2.0,"d":-0.1},{"k":2.2,"d":-0.28},{"k":2.4,"d":-0.28},{"k":2.6,"d":-0.28},{"k":2.8,"d":-0.3},{"k":3.0,"d":-0.3},{"k":3.2,"d":-0.29},{"k":3.4,"d":-0.28},{"k":3.6,"d":-0.28},{"k":3.8,"d":-0.28},
      {"k":4.0,"d":-0.27},{"k":4.2,"d":-0.28},{"k":4.4,"d":-0.26},{"k":4.6,"d":-0.25},{"k":4.8,"d":-0.25},{"k":5.0,"d":-0.24},{"k":5.2,"d":-0.25},{"k":5.4,"d":-0.21},{"k":5.6,"d":-0.26},{"k":5.8,"d":-0.26},
      {"k":6.0,"d":-0.3},{"k":6.2,"d":-0.28},{"k":6.4,"d":-0.28},{"k":6.6,"d":-0.3},{"k":6.8,"d":-0.28},{"k":7.0,"d":-0.26},{"k":7.2,"d":-0.25},{"k":7.4,"d":-0.26},{"k":7.6,"d":-0.28},{"k":7.8,"d":-0.29},
      {"k":8.0,"d":-0.35},{"k":8.2,"d":-0.33},{"k":8.4,"d":-0.29},{"k":8.6,"d":-0.43},{"k":8.8,"d":-0.41},{"k":9.0,"d":-0.37},{"k":9.2,"d":-0.39},{"k":9.4,"d":-0.31},{"k":9.6,"d":-0.23},{"k":9.8,"d":-0.23},
      {"k":10.0,"d":-0.25},{"k":10.2,"d":-0.15},{"k":10.4,"d":-0.26},{"k":10.6,"d":-0.12},{"k":10.8,"d":0.01},{"k":11.0,"d":0.21},{"k":11.2,"d":0.16},{"k":11.4,"d":0.24},{"k":11.6,"d":0.12},{"k":11.8,"d":0.24},
      {"k":12.0,"d":0.22},{"k":12.2,"d":0.43},{"k":12.4,"d":0.43},{"k":12.6,"d":0.37},{"k":12.8,"d":0.38},{"k":13.0,"d":0.38},{"k":13.2,"d":0.34},{"k":13.4,"d":0.34},{"k":13.6,"d":0.33},{"k":13.8,"d":0.35},
      {"k":14.0,"d":0.35},{"k":14.2,"d":0.31},{"k":14.4,"d":0.24},{"k":14.6,"d":0.2},{"k":14.8,"d":0.22},{"k":15.0,"d":0.17},{"k":15.2,"d":0.17},{"k":15.4,"d":0.22},{"k":15.6,"d":0.14},{"k":15.8,"d":0.28},
      {"k":16.0,"d":0.24},{"k":16.2,"d":0.22},{"k":16.4,"d":0.19},{"k":16.6,"d":0.17},{"k":16.8,"d":0.2},{"k":17.0,"d":0.18},{"k":17.2,"d":0.25},{"k":17.4,"d":0.18},{"k":17.6,"d":0.23},{"k":17.8,"d":0.19},
      {"k":18.0,"d":0.2},{"k":18.2,"d":0.27},{"k":18.4,"d":0.32},{"k":18.6,"d":0.32},{"k":18.8,"d":0.32},{"k":19.0,"d":0.27},{"k":19.2,"d":0.28},{"k":19.4,"d":0.2},{"k":19.6,"d":0.21},{"k":19.8,"d":0.2},
      {"k":20.0,"d":0.18},{"k":20.2,"d":0.13},{"k":20.4,"d":0.05},{"k":20.6,"d":0.01},{"k":20.8,"d":0.05},{"k":21.0,"d":0.35},{"k":21.2,"d":0.35},{"k":21.4,"d":0.33},{"k":21.6,"d":0.23},{"k":21.8,"d":0.23},
      {"k":22.0,"d":0.23},{"k":22.2,"d":0.24},{"k":22.4,"d":0.22},{"k":22.6,"d":0.21},{"k":22.8,"d":0.26},{"k":23.0,"d":0.27},{"k":23.2,"d":0.3},{"k":23.4,"d":0.43},{"k":23.6,"d":0.4},{"k":23.8,"d":0.39},
      {"k":24.0,"d":0.38},{"k":24.2,"d":0.38},{"k":24.4,"d":0.36},{"k":24.6,"d":0.33},{"k":24.8,"d":0.29},{"k":25.0,"d":0.27},{"k":25.2,"d":0.3},{"k":25.4,"d":0.26},{"k":25.6,"d":0.24},{"k":25.8,"d":0.21},
      {"k":26.0,"d":0.25},{"k":26.2,"d":0.29},{"k":26.4,"d":0.38},{"k":26.6,"d":0.45},{"k":26.8,"d":0.46},{"k":27.0,"d":0.46},{"k":27.2,"d":0.49},{"k":27.4,"d":0.48},{"k":27.6,"d":0.47},{"k":27.8,"d":0.45},
      {"k":28.0,"d":0.42},{"k":28.2,"d":0.46},{"k":28.4,"d":0.55},{"k":28.6,"d":0.62},{"k":28.8,"d":0.7},{"k":29.0,"d":0.74},{"k":29.2,"d":0.7},{"k":29.4,"d":0.67},{"k":29.6,"d":0.66},{"k":29.8,"d":0.73},
      {"k":30.0,"d":0.67},{"k":30.2,"d":0.7},{"k":30.4,"d":0.65},{"k":30.6,"d":0.61},{"k":30.8,"d":0.53},{"k":31.0,"d":0.48},{"k":31.2,"d":0.46},{"k":31.4,"d":0.45},{"k":31.6,"d":0.43},{"k":31.8,"d":0.39},
      {"k":32.0,"d":0.35},{"k":32.2,"d":0.35},{"k":32.4,"d":0.39},{"k":32.6,"d":0.36},{"k":32.8,"d":0.37},{"k":33.0,"d":0.34},{"k":33.2,"d":0.41},{"k":33.4,"d":0.38},{"k":33.6,"d":0.41},{"k":33.8,"d":0.36},
      {"k":34.0,"d":0.37},{"k":34.2,"d":0.29},{"k":34.4,"d":0.4},{"k":34.6,"d":0.62},{"k":34.8,"d":0.76},{"k":35.0,"d":0.73},{"k":35.2,"d":-2.84},{"k":35.4,"d":-1.48},{"k":35.6,"d":-1.32},{"k":35.8,"d":-1.16},
      {"k":36.0,"d":-1.18},{"k":36.2,"d":-0.92},{"k":36.4,"d":-0.89},{"k":36.6,"d":-0.84},{"k":36.8,"d":-0.84},{"k":37.0,"d":-0.85},{"k":37.2,"d":-0.69},{"k":37.4,"d":-0.64},{"k":37.6,"d":-0.58},{"k":37.8,"d":-0.62},
      {"k":38.0,"d":-0.43},{"k":38.2,"d":-0.43},{"k":38.4,"d":-0.23},{"k":38.6,"d":-0.2},{"k":38.8,"d":-0.05},{"k":39.0,"d":-0.25},{"k":39.2,"d":-0.08},{"k":39.4,"d":-0.08},{"k":39.6,"d":0.43},{"k":39.8,"d":0.55},
      {"k":40.0,"d":-0.4},{"k":40.2,"d":0.06},{"k":40.4,"d":0.18},{"k":40.6,"d":0.29},{"k":40.8,"d":0.49},{"k":41.0,"d":0.47},{"k":41.2,"d":0.3},{"k":41.4,"d":-0.01},{"k":41.6,"d":-0.08},{"k":41.8,"d":-0.48},
      {"k":42.0,"d":-0.17},{"k":42.2,"d":-0.05},{"k":42.4,"d":-0.13},{"k":42.6,"d":-0.23},{"k":42.8,"d":-0.26},{"k":43.0,"d":-0.3},{"k":43.2,"d":-0.56},{"k":43.4,"d":-1.04},{"k":43.6,"d":-0.55},{"k":43.8,"d":-0.85},
      {"k":44.0,"d":-1.17},{"k":44.2,"d":-0.8},{"k":44.4,"d":-0.83},{"k":44.6,"d":-0.75},{"k":44.8,"d":0.0},{"k":45.0,"d":0.46},{"k":45.2,"d":0.83},{"k":45.4,"d":0.31},{"k":45.6,"d":0.34},{"k":45.8,"d":-0.02},
      {"k":46.0,"d":-0.51},{"k":46.2,"d":-0.35},{"k":46.4,"d":-0.6},{"k":46.6,"d":-0.5},{"k":46.8,"d":0.3},{"k":47.0,"d":0.78},{"k":47.2,"d":0.43},{"k":47.4,"d":0.76},{"k":47.6,"d":1.33},{"k":47.8,"d":1.36}
    ],
    "lowerMarks": [
      {"t":"鯰田用水堰","k":29.83,"z0":1.0,"z1":1.22,"k2":30.8,"tk":30.95,"tz":1.48},
      {"t":"洗越堰","k":39.78,"z0":1.0,"z1":1.22,"k2":40.76,"tk":40.5,"tz":1.44},
      {"t":"町口堰","k":44.77,"z0":1.48,"z1":1.72,"k2":45.74,"tk":45.45,"tz":1.88},
      {"t":"上川原堰","k":46.6,"z0":0.73,"z1":1.0,"k2":47.54,"tk":46.45,"tz":1.22},
      {"t":"長田堰","k":47.29,"z0":1.48,"z1":1.72,"k2":47.95,"tk":47.45,"tz":1.88}
    ],
    "muni": [
      {"k":0.88,"d":-2.34,"t":"芦屋町"},{"k":3.26,"d":-2.33,"t":"【右岸】"},{"k":5.38,"d":-2.44,"t":"水巻町"},{"k":10.3,"d":-2.33,"t":"中間市"},{"k":13.73,"d":-2.37,"t":"北九州市"},
      {"k":17.55,"d":-2.35,"t":"直方市"},{"k":23.5,"d":-2.4,"t":"小竹町"},{"k":30.07,"d":-2.34,"t":"飯塚市"},{"k":41.53,"d":-2.37,"t":"嘉麻市"},
      {"k":0.88,"d":-2.64,"t":"芦屋町"},{"k":3.26,"d":-2.62,"t":"【左岸】"},{"k":5.38,"d":-2.7,"t":"遠賀町"},{"k":10.3,"d":-2.6,"t":"中間市"},{"k":12.4,"d":-2.74,"t":"鞍手町"},
      {"k":17.55,"d":-2.62,"t":"直方市"},{"k":23.5,"d":-2.68,"t":"小竹町"},{"k":30.07,"d":-2.64,"t":"飯塚市"},{"k":41.53,"d":-2.69,"t":"嘉麻市"}
    ]
  },
  "vconcat": [
    {
      "width": 1612,
      "height": 748,
      "resolve": {"axis": {"x": "independent", "y": "independent"}},
      "layer": [
        {
          "data": {"values": [{"k": 0, "z": -8}, {"k": 48, "z": -8}]},
          "mark": {"type": "line", "color": "#555555", "strokeWidth": 1.5},
          "encoding": {
            "x": {"field": "k", "type": "quantitative", "scale": {"domain": [0, 48], "nice": false, "zero": false},
              "axis": {"orient": "bottom", "tickCount": 48, "format": ".1f", "grid": true, "gridDash": [3, 2], "gridColor": "#000000", "gridWidth": 0.8, "ticks": false, "domain": true, "domainWidth": 2, "domainColor": "#000000", "labelFont": "Liberation Sans", "labelFontSize": 13, "labelColor": "#000000", "labelPadding": 3, "labelOverlap": false, "labelFlush": false, "title": "距離標(km) →", "titleFont": "Noto Sans CJK JP", "titleFontSize": 14, "titleFontWeight": "normal", "titleColor": "#000000", "titlePadding": 5}},
            "y": {"field": "z", "type": "quantitative", "scale": {"domain": [-10, 60], "nice": false, "zero": false},
              "axis": {"orient": "left", "tickCount": 14, "grid": true, "gridDash": [3, 2], "gridColor": "#000000", "gridWidth": 0.8, "ticks": false, "domain": true, "domainWidth": 2, "domainColor": "#000000", "labelFont": "Liberation Sans", "labelFontSize": 15, "labelColor": "#000000", "labelPadding": 13, "labelOverlap": false, "labelFlush": false, "title": ["標", "高", "(T.P.m)"], "titleAngle": 0, "titleAlign": "center", "titleBaseline": "top", "titleX": -67, "titleY": 338, "titleLineHeight": 21, "titleFont": "Noto Sans CJK JP", "titleFontSize": 13, "titleFontWeight": "normal", "titleColor": "#000000"}}
          }
        },
        {
          "data": {"values": [{"k": 1.36}, {"k": 10.95}, {"k": 15.4}, {"k": 17.4}, {"k": 19.2}, {"k": 21.4}, {"k": 24.6}, {"k": 31.0}, {"k": 32.8}, {"k": 37.6}, {"k": 41.0}]},
          "mark": {"type": "rule", "color": "#000000", "strokeWidth": 1.2},
          "encoding": {
            "x": {"field": "k", "type": "quantitative", "scale": {"domain": [0, 48], "nice": false, "zero": false},
              "axis": {"orient": "bottom", "tickCount": 240, "labels": false, "grid": false, "domain": false, "ticks": true, "tickSize": -5, "tickWidth": 1, "tickColor": "#000000", "title": null}},
            "y": {"datum": -6.9, "type": "quantitative", "scale": {"domain": [-10, 60], "nice": false, "zero": false},
              "axis": {"orient": "left", "tickCount": 70, "labels": false, "grid": false, "domain": false, "ticks": true, "tickSize": -4, "tickWidth": 1, "tickColor": "#000000", "title": null}},
            "y2": {"datum": -9.1}
          }
        },
        {
          "data": {"values": [{}]},
          "mark": {"type": "text", "fontSize": 14, "font": "Noto Sans CJK JP", "color": "#000000"},
          "encoding": {
            "x": {"datum": -1.995, "type": "quantitative", "axis": null},
            "y": {"datum": 31.4, "type": "quantitative", "axis": null},
            "text": {"value": "↑"}
          }
        },
        {
          "data": {"name": "weirGray"},
          "mark": {"type": "rule", "color": "#9a9a9a", "strokeWidth": 4.5},
          "encoding": {
            "x": {"field": "k", "type": "quantitative", "axis": null},
            "y": {"field": "lo", "type": "quantitative", "axis": null},
            "y2": {"field": "hi"}
          }
        },
        {
          "data": {"name": "weirBlack"},
          "mark": {"type": "rule", "color": "#000000", "strokeWidth": 4.5},
          "encoding": {
            "x": {"field": "k", "type": "quantitative", "axis": null},
            "y": {"field": "lo", "type": "quantitative", "axis": null},
            "y2": {"field": "hi"}
          }
        },
        {
          "data": {"values": [{"k": 2.0, "z": -4.2}]},
          "mark": {"type": "circle", "color": "#000000", "size": 40, "opacity": 1},
          "encoding": {
            "x": {"field": "k", "type": "quantitative", "axis": null},
            "y": {"field": "z", "type": "quantitative", "axis": null}
          }
        },
        {
          "data": {"name": "bedAvg"},
          "mark": {"type": "line", "color": "#8c8c8c", "strokeWidth": 1.2, "strokeDash": [4, 3]},
          "encoding": {
            "x": {"field": "k", "type": "quantitative", "axis": null},
            "y": {"field": "z", "type": "quantitative", "axis": null}
          }
        },
        {
          "data": {"name": "bedMin"},
          "mark": {"type": "line", "color": "#000000", "strokeWidth": 1.2},
          "encoding": {
            "x": {"field": "k", "type": "quantitative", "axis": null},
            "y": {"field": "z", "type": "quantitative", "axis": null}
          }
        },
        {
          "data": {"name": "hwl"},
          "mark": {"type": "line", "color": "#1f9f1f", "strokeWidth": 1.3},
          "encoding": {
            "x": {"field": "k", "type": "quantitative", "axis": null},
            "y": {"field": "z", "type": "quantitative", "axis": null}
          }
        },
        {
          "data": {"name": "wl"},
          "mark": {"type": "line", "color": "#1c3c8c", "strokeWidth": 1.3},
          "encoding": {
            "x": {"field": "k", "type": "quantitative", "axis": null},
            "y": {"field": "z", "type": "quantitative", "axis": null}
          }
        },
        {
          "data": {"name": "plan"},
          "mark": {"type": "line", "color": "#149a9a", "strokeWidth": 1.3},
          "encoding": {
            "x": {"field": "k", "type": "quantitative", "axis": null},
            "y": {"field": "z", "type": "quantitative", "axis": null}
          }
        },
        {
          "data": {"name": "bankL"},
          "mark": {"type": "point", "filled": true, "size": 900, "opacity": 1, "strokeWidth": 1},
          "encoding": {
            "x": {"field": "k", "type": "quantitative", "axis": null},
            "y": {"field": "z", "type": "quantitative", "axis": null},
            "shape": {"datum": "左岸現況堤防高", "type": "nominal",
              "scale": {"domain": ["左岸現況堤防高", "右岸現況堤防高", "平均河床高", "最深河床高", "計算水位【現況河道】"], "range": ["M0,-0.2L0.18,0.12L-0.18,0.12Z", "M0.18,0A0.18,0.18,0,1,1,-0.18,0A0.18,0.18,0,1,1,0.18,0Z", "M-1,0L1,0", "M-1,0L1,0", "M-1,0L1,0"]},
              "legend": {"title": null, "orient": "none", "legendX": 21, "legendY": 7, "padding": 1, "symbolOffset": 29, "labelOffset": 10, "symbolSize": 900, "symbolStrokeWidth": 1.3, "labelFont": "Noto Sans CJK JP", "labelFontSize": 13, "labelColor": "#000000", "labelLimit": 0, "fillColor": "#ffffff", "strokeColor": "#000000", "cornerRadius": 0, "rowPadding": 9, "labelExpr": "':' + datum.label"}},
            "fill": {"datum": "左岸現況堤防高", "type": "nominal",
              "scale": {"domain": ["左岸現況堤防高", "右岸現況堤防高", "平均河床高", "最深河床高", "計算水位【現況河道】"], "range": ["#ffffff", "#000000", "transparent", "transparent", "transparent"]},
              "legend": {"title": null, "orient": "none", "legendX": 21, "legendY": 7, "padding": 1, "symbolOffset": 29, "labelOffset": 10, "symbolSize": 900, "symbolStrokeWidth": 1.3, "labelFont": "Noto Sans CJK JP", "labelFontSize": 13, "labelColor": "#000000", "labelLimit": 0, "fillColor": "#ffffff", "strokeColor": "#000000", "cornerRadius": 0, "rowPadding": 9, "labelExpr": "':' + datum.label"}},
            "stroke": {"datum": "左岸現況堤防高", "type": "nominal",
              "scale": {"domain": ["左岸現況堤防高", "右岸現況堤防高", "平均河床高", "最深河床高", "計算水位【現況河道】"], "range": ["#000000", "#000000", "#8c8c8c", "#000000", "#1c3c8c"]},
              "legend": {"title": null, "orient": "none", "legendX": 21, "legendY": 7, "padding": 1, "symbolOffset": 29, "labelOffset": 10, "symbolSize": 900, "symbolStrokeWidth": 1.3, "labelFont": "Noto Sans CJK JP", "labelFontSize": 13, "labelColor": "#000000", "labelLimit": 0, "fillColor": "#ffffff", "strokeColor": "#000000", "cornerRadius": 0, "rowPadding": 9, "labelExpr": "':' + datum.label"}},
            "strokeDash": {"datum": "左岸現況堤防高", "type": "nominal",
              "scale": {"domain": ["左岸現況堤防高", "右岸現況堤防高", "平均河床高", "最深河床高", "計算水位【現況河道】"], "range": [[1, 0], [1, 0], [4, 3], [1, 0], [1, 0]]},
              "legend": {"title": null, "orient": "none", "legendX": 21, "legendY": 7, "padding": 1, "symbolOffset": 29, "labelOffset": 10, "symbolSize": 900, "symbolStrokeWidth": 1.3, "labelFont": "Noto Sans CJK JP", "labelFontSize": 13, "labelColor": "#000000", "labelLimit": 0, "fillColor": "#ffffff", "strokeColor": "#000000", "cornerRadius": 0, "rowPadding": 9, "labelExpr": "':' + datum.label"}}
          }
        },
        {
          "data": {"name": "bankR"},
          "mark": {"type": "point", "filled": true, "size": 900, "opacity": 1, "strokeWidth": 1},
          "encoding": {
            "x": {"field": "k", "type": "quantitative", "axis": null},
            "y": {"field": "z", "type": "quantitative", "axis": null},
            "shape": {"datum": "右岸現況堤防高", "type": "nominal"},
            "fill": {"datum": "右岸現況堤防高", "type": "nominal"},
            "stroke": {"datum": "右岸現況堤防高", "type": "nominal"},
            "strokeDash": {"datum": "右岸現況堤防高", "type": "nominal"}
          }
        },
        {
          "data": {"name": "landmarks"},
          "mark": {"type": "rule", "strokeWidth": 1.2},
          "encoding": {
            "x": {"field": "k", "type": "quantitative", "axis": null},
            "y": {"field": "z0", "type": "quantitative", "axis": null},
            "y2": {"field": "z1"},
            "color": {"field": "kind", "type": "nominal", "scale": {"domain": ["施設", "地点", "支川"], "range": ["#000000", "#1da34d", "#3535ee"]}, "legend": null}
          }
        },
        {
          "data": {"name": "landmarks"},
          "mark": {"type": "rule", "strokeWidth": 1.2},
          "encoding": {
            "x": {"field": "k", "type": "quantitative", "axis": null},
            "x2": {"field": "k2"},
            "y": {"field": "z1", "type": "quantitative", "axis": null},
            "color": {"field": "kind", "type": "nominal", "legend": null}
          }
        },
        {
          "data": {"name": "landmarks"},
          "mark": {"type": "text", "fontSize": 15, "font": "Noto Sans CJK JP"},
          "encoding": {
            "x": {"field": "tk", "type": "quantitative", "axis": null},
            "y": {"field": "tz", "type": "quantitative", "axis": null},
            "text": {"field": "t"},
            "color": {"field": "kind", "type": "nominal", "legend": null}
          }
        },
        {
          "data": {"name": "flowText"},
          "mark": {"type": "text", "fontSize": 14, "font": "Noto Sans CJK JP", "color": "#000000"},
          "encoding": {
            "x": {"field": "k", "type": "quantitative", "axis": null},
            "y": {"datum": -7.0, "type": "quantitative", "axis": null},
            "text": {"field": "t"}
          }
        },
        {
          "data": {"values": [{}]},
          "mark": {"type": "text", "fontSize": 36, "fontWeight": "bold", "font": "Noto Sans CJK JP", "color": "#000000"},
          "encoding": {
            "x": {"datum": 24.85, "type": "quantitative", "axis": null},
            "y": {"datum": 55.4, "type": "quantitative", "axis": null},
            "text": {"value": "遠賀川水位縦断図（現況河道:w=1/80流量流下時）"}
          }
        },
        {
          "data": {"values": [{}]},
          "mark": {"type": "text", "fontSize": 14, "font": "Noto Sans CJK JP", "color": "#1f9f1f"},
          "encoding": {
            "x": {"datum": 11.6, "type": "quantitative", "axis": null},
            "y": {"datum": 8.25, "type": "quantitative", "axis": null},
            "text": {"value": "H.W.L"}
          }
        },
        {
          "data": {"values": [{}]},
          "mark": {"type": "text", "fontSize": 15, "font": "Noto Sans CJK JP", "color": "#149a9a"},
          "encoding": {
            "x": {"datum": 13.63, "type": "quantitative", "axis": null},
            "y": {"datum": 11.25, "type": "quantitative", "axis": null},
            "text": {"value": "計画堤防高"}
          }
        },
        {
          "data": {"values": [{"k": 11.0, "k2": 15.0}, {"k": 30.5, "k2": 34.95}]},
          "mark": {"type": "rule", "color": "#ff0000", "strokeWidth": 6},
          "encoding": {
            "x": {"field": "k", "type": "quantitative", "axis": null},
            "x2": {"field": "k2"},
            "y": {"datum": -13.4, "type": "quantitative", "axis": null}
          }
        },
        {
          "data": {"values": [{}]},
          "mark": {"type": "point", "shape": "M0.55,-1L-0.45,0L0.55,1", "size": 676, "filled": false, "stroke": "#ff0000", "strokeWidth": 6, "opacity": 1, "strokeJoin": "miter"},
          "encoding": {
            "x": {"datum": 11.05, "type": "quantitative", "axis": null},
            "y": {"datum": -13.4, "type": "quantitative", "axis": null}
          }
        },
        {
          "data": {"values": [{}]},
          "mark": {"type": "point", "shape": "M-0.55,-1L0.45,0L-0.55,1", "size": 676, "filled": false, "stroke": "#ff0000", "strokeWidth": 6, "opacity": 1, "strokeJoin": "miter"},
          "encoding": {
            "x": {"datum": 34.9, "type": "quantitative", "axis": null},
            "y": {"datum": -13.4, "type": "quantitative", "axis": null}
          }
        },
        {
          "data": {"values": [{}]},
          "mark": {"type": "text", "fontSize": 33, "font": "Noto Sans CJK JP", "color": "#ff0000"},
          "encoding": {
            "x": {"datum": 22.66, "type": "quantitative", "axis": null},
            "y": {"datum": -13.65, "type": "quantitative", "axis": null},
            "text": {"value": "（中間堰～穂波川合流点上流）"}
          }
        }
      ]
    },
    {
      "width": 1612,
      "height": 309,
      "resolve": {"axis": {"x": "independent", "y": "independent"}},
      "layer": [
        {
          "data": {"values": [{"k": 0, "d": -2.5}, {"k": 48, "d": -2.5}]},
          "mark": {"type": "line", "color": "#666666", "strokeWidth": 1.5},
          "encoding": {
            "x": {"field": "k", "type": "quantitative", "scale": {"domain": [0, 48], "nice": false, "zero": false},
              "axis": {"orient": "bottom", "tickCount": 48, "format": ".1f", "grid": true, "gridDash": [3, 2], "gridColor": "#000000", "gridWidth": 0.8, "ticks": false, "domain": true, "domainWidth": 2, "domainColor": "#000000", "labelFont": "Liberation Sans", "labelFontSize": 13, "labelColor": "#000000", "labelPadding": 5, "labelOverlap": false, "labelFlush": false, "title": "距離標(km) →", "titleFont": "Noto Sans CJK JP", "titleFontSize": 14, "titleFontWeight": "normal", "titleColor": "#000000", "titlePadding": 3}},
            "y": {"field": "d", "type": "quantitative", "scale": {"domain": [-3, 2], "nice": false, "zero": false},
              "axis": {"orient": "left", "tickCount": 5, "format": ".1f", "grid": true, "gridDash": [3, 2], "gridColor": "#000000", "gridWidth": 0.8, "ticks": false, "domain": true, "domainWidth": 2, "domainColor": "#000000", "labelFont": "Liberation Sans", "labelFontSize": 15, "labelColor": "#000000", "labelPadding": 12, "labelOverlap": false, "labelFlush": false, "title": ["H", "W", "L", "と", "の", "差", "(m)"], "titleAngle": 0, "titleAlign": "center", "titleBaseline": "top", "titleX": -68, "titleY": 102, "titleLineHeight": 19.5, "titleFont": "Noto Sans CJK JP", "titleFontSize": 13, "titleFontWeight": "normal", "titleColor": "#000000"}}
          }
        },
        {
          "data": {"values": [{"k": 1.83}, {"k": 8.71}, {"k": 11.94}, {"k": 15.56}, {"k": 20.52}, {"k": 25.13}, {"k": 36.37}]},
          "mark": {"type": "rule", "color": "#000000", "strokeWidth": 1.2},
          "encoding": {
            "x": {"field": "k", "type": "quantitative", "scale": {"domain": [0, 48], "nice": false, "zero": false},
              "axis": {"orient": "bottom", "tickCount": 240, "labels": false, "grid": false, "domain": false, "ticks": true, "tickSize": -6, "tickWidth": 1, "tickColor": "#000000", "title": null}},
            "y": {"datum": -2.2, "type": "quantitative", "scale": {"domain": [-3, 2], "nice": false, "zero": false},
              "axis": {"orient": "left", "tickCount": 25, "labels": false, "grid": false, "domain": false, "ticks": true, "tickSize": -4, "tickWidth": 1, "tickColor": "#000000", "title": null}},
            "y2": {"datum": -2.5}
          }
        },
        {
          "data": {"values": [{}]},
          "mark": {"type": "text", "fontSize": 14, "font": "Noto Sans CJK JP", "color": "#000000"},
          "encoding": {
            "x": {"datum": -2.025, "type": "quantitative", "axis": null},
            "y": {"datum": 0.85, "type": "quantitative", "axis": null},
            "text": {"value": "↑"}
          }
        },
        {
          "data": {"values": [{"k": 2.2}, {"k": 8.13}, {"k": 11.74}, {"k": 12.93}, {"k": 21.17}, {"k": 25.74}, {"k": 34.83}]},
          "mark": {"type": "rule", "color": "#000000", "strokeWidth": 1.2},
          "encoding": {
            "x": {"field": "k", "type": "quantitative", "axis": null},
            "y": {"datum": -2.5, "type": "quantitative", "axis": null},
            "y2": {"datum": -2.82}
          }
        },
        {
          "data": {"values": [{"k": 0, "d": 0}, {"k": 48, "d": 0}]},
          "mark": {"type": "line", "color": "#000000", "strokeWidth": 2.5},
          "encoding": {
            "x": {"field": "k", "type": "quantitative", "axis": null},
            "y": {"field": "d", "type": "quantitative", "axis": null}
          }
        },
        {
          "data": {"name": "diff"},
          "mark": {"type": "line", "strokeWidth": 1.3},
          "encoding": {
            "x": {"field": "k", "type": "quantitative", "axis": null},
            "y": {"field": "d", "type": "quantitative", "axis": null},
            "color": {"datum": "計算水位【現況河道】", "type": "nominal", "scale": {"range": ["#1c3c8c"]},
              "legend": {"title": null, "orient": "none", "legendX": 11, "legendY": 11, "padding": 10, "symbolOffset": 11, "labelOffset": -4, "symbolSize": 784, "symbolStrokeWidth": 1.3, "symbolType": "stroke", "labelFont": "Noto Sans CJK JP", "labelFontSize": 13, "labelColor": "#000000", "labelLimit": 0, "fillColor": "#ffffff", "strokeColor": "#000000", "cornerRadius": 0, "labelExpr": "':' + datum.label"}}
          }
        },
        {
          "data": {"name": "lowerMarks"},
          "mark": {"type": "rule", "color": "#000000", "strokeWidth": 1.2},
          "encoding": {
            "x": {"field": "k", "type": "quantitative", "axis": null},
            "y": {"field": "z0", "type": "quantitative", "axis": null},
            "y2": {"field": "z1"}
          }
        },
        {
          "data": {"name": "lowerMarks"},
          "mark": {"type": "rule", "color": "#000000", "strokeWidth": 1.2},
          "encoding": {
            "x": {"field": "k", "type": "quantitative", "axis": null},
            "x2": {"field": "k2"},
            "y": {"field": "z1", "type": "quantitative", "axis": null}
          }
        },
        {
          "data": {"name": "lowerMarks"},
          "mark": {"type": "text", "fontSize": 15, "font": "Noto Sans CJK JP", "color": "#000000"},
          "encoding": {
            "x": {"field": "tk", "type": "quantitative", "axis": null},
            "y": {"field": "tz", "type": "quantitative", "axis": null},
            "text": {"field": "t"}
          }
        },
        {
          "data": {"name": "muni"},
          "mark": {"type": "text", "fontSize": 12.5, "font": "Noto Sans CJK JP", "color": "#000000"},
          "encoding": {
            "x": {"field": "k", "type": "quantitative", "axis": null},
            "y": {"field": "d", "type": "quantitative", "axis": null},
            "text": {"field": "t"}
          }
        },
        {
          "data": {"values": [{}]},
          "mark": {"type": "point", "shape": "M-1,0A1,0.168,0,1,1,1,0A1,0.168,0,1,1,-1,0Z", "size": 712336, "filled": false, "stroke": "#ff0000", "strokeWidth": 6, "strokeDash": [26, 14], "opacity": 1},
          "encoding": {
            "x": {"datum": 23.3, "type": "quantitative", "axis": null},
            "y": {"datum": 0.39, "type": "quantitative", "axis": null}
          }
        },
        {
          "data": {"values": [{}]},
          "mark": {"type": "text", "fontSize": 34, "font": "Noto Sans CJK JP", "color": "#ff0000"},
          "encoding": {
            "x": {"datum": 22.25, "type": "quantitative", "axis": null},
            "y": {"datum": 1.06, "type": "quantitative", "axis": null},
            "text": {"value": "連続してH.W.Lを超過"}
          }
        }
      ]
    }
  ]
}
